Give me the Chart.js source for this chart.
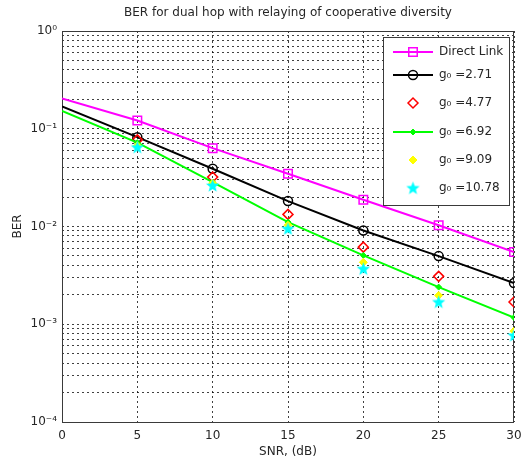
<!DOCTYPE html>
<html>
<head>
<meta charset="utf-8">
<script src="https://cdn.jsdelivr.net/npm/chart.js@4"></script>
<style>
  body { margin: 0; background: #fff; }
  #wrap { width: 525px; height: 465px; }
</style>
</head>
<body>
<div id="wrap"><canvas id="ber" width="525" height="465"></canvas></div>
<script>
// values
var snrLine = [0, 5, 10, 15, 20, 25, 30];
var snrMarks = [5, 10, 15, 20, 25, 30];
var berDirect = [0.204, 0.1216, 0.0633, 0.0347, 0.0188, 0.0103, 0.00547];
var berG271 = [0.169, 0.082, 0.039, 0.0182, 0.0091, 0.00498, 0.00264];
var berG477 = [0.077, 0.032, 0.0133, 0.00615, 0.00309, 0.00169];
var berG692 = [0.152, 0.072, 0.0284, 0.0111, 0.00506, 0.0024, 0.00117];
var berG909 = [0.067, 0.0277, 0.0103, 0.0043, 0.00197, 0.00085];
var berG1078 = [0.0648, 0.0263, 0.0095, 0.0037, 0.00169, 0.00077];
var seriesLabels = ["Direct Link", "g\u2080 =2.71", "g\u2080 =4.77", "g\u2080 =6.92", "g\u2080 =9.09", "g\u2080 =10.78"];

var xTicks = [0, 5, 10, 15, 20, 25, 30];
var yDecades = [1e-4, 1e-3, 1e-2, 1e-1, 1];
var yTickLabels = ["10\u207B\u2074", "10\u207B\u00B3", "10\u207B\u00B2", "10\u207B\u00B9", "10\u2070"];

var chartTitle = "BER for dual hop with relaying of cooperative diversity";
var xTitle = "SNR, (dB)";
var yTitle = "BER";

function pairs(xs, ys) {
  return xs.map(function (x, i) { return {x: x, y: ys[i]}; });
}

function makeStar(size, color) {
  var c = document.createElement("canvas");
  c.width = size; c.height = size;
  var g = c.getContext("2d");
  var cx = size / 2, cy = size / 2 + 0.5, R = size / 2 - 0.5, r = R * 0.42;
  g.beginPath();
  for (var i = 0; i < 10; i++) {
    var a = -Math.PI / 2 + i * Math.PI / 5;
    var rr = (i % 2) ? r : R;
    g.lineTo(cx + rr * Math.cos(a), cy + rr * Math.sin(a));
  }
  g.closePath();
  g.fillStyle = color;
  g.fill();
  return c;
}
var starImg = makeStar(15, "#00ffff");

// grid positions for the log axis: 1..9 in every decade
var yGrid = [];
for (var e = -4; e < 0; e++) {
  for (var s = 1; s < 10; s++) yGrid.push(s * Math.pow(10, e));
}
yGrid.push(1);

var datasets = [
  {label: seriesLabels[0], data: pairs(snrLine, berDirect), borderColor: "#ff00ff", borderWidth: 2,
   pointStyle: "rect", backgroundColor: "rgba(0,0,0,0)", pointBorderColor: "#ff00ff", pointBorderWidth: 1.5,
   pointRadius: function (c) { return c.parsed.x === 0 ? 0 : 6; }, showLine: true, order: 5},
  {label: seriesLabels[1], data: pairs(snrLine, berG271), borderColor: "#000000", borderWidth: 2,
   pointStyle: "circle", backgroundColor: "rgba(0,0,0,0)", pointBorderColor: "#000000", pointBorderWidth: 1.5,
   pointRadius: function (c) { return c.parsed.x === 0 ? 0 : 4.5; }, showLine: true, order: 4},
  {label: seriesLabels[2], data: pairs(snrMarks, berG477), borderColor: "#ff0000", borderWidth: 0,
   pointStyle: "rectRot", backgroundColor: "rgba(0,0,0,0)", pointBorderColor: "#ff0000", pointBorderWidth: 1.5,
   pointRadius: 5, showLine: false, order: 3},
  {label: seriesLabels[3], data: pairs(snrLine, berG692), borderColor: "#00ff00", borderWidth: 2,
   pointStyle: "rectRot", backgroundColor: "#00ff00", pointBorderColor: "#00ff00", pointBackgroundColor: "#00ff00",
   pointBorderWidth: 1, pointRadius: function (c) { return c.parsed.x === 0 ? 0 : 3; }, showLine: true, order: 2},
  {label: seriesLabels[4], data: pairs(snrMarks, berG909), borderColor: "#ffff00", borderWidth: 0,
   pointStyle: "rectRot", backgroundColor: "#ffff00", pointBorderColor: "#ffff00", pointBackgroundColor: "#ffff00",
   pointBorderWidth: 1, pointRadius: 4, showLine: false, order: 1},
  {label: seriesLabels[5], data: pairs(snrMarks, berG1078), borderColor: "#00ffff", borderWidth: 0,
   pointStyle: starImg, backgroundColor: "#00ffff", pointBorderColor: "#00ffff",
   pointBorderWidth: 0, pointRadius: 7, showLine: false, order: 0}
];

var textColor = "#262626";
var fontFam = "'DejaVu Sans', sans-serif";

// frame, titles and the boxed legend drawn by hand like the MATLAB figure
var figurePlugin = {
  id: "figure",
  beforeDatasetsDraw: function (chart) {
    var a = chart.chartArea, ctx = chart.ctx;
    ctx.save();
    ctx.strokeStyle = "#3a3a3a";
    ctx.lineWidth = 1;
    ctx.setLineDash([]);
    ctx.strokeRect(Math.round(a.left) + 0.5, Math.round(a.top) + 0.5,
                   Math.round(a.right - a.left) - 1, Math.round(a.bottom - a.top));
    ctx.restore();
  },
  afterDraw: function (chart) {
    var a = chart.chartArea, ctx = chart.ctx;
    ctx.save();
    ctx.fillStyle = textColor;
    ctx.font = "12px " + fontFam;
    ctx.textAlign = "center";
    ctx.textBaseline = "middle";
    ctx.fillText(chartTitle, (a.left + a.right) / 2, 13);
    ctx.fillText(xTitle, (a.left + a.right) / 2, 452);
    ctx.translate(18, (a.top + a.bottom) / 2);
    ctx.rotate(-Math.PI / 2);
    ctx.fillText(yTitle, 0, 0);
    ctx.restore();

    // legend box
    var bx = 383.5, by = 37.5, bw = 126, bh = 168;
    var rows = [52, 75, 103, 132, 160, 188];
    ctx.save();
    ctx.fillStyle = "#ffffff";
    ctx.fillRect(bx, by, bw, bh);
    ctx.strokeStyle = "#3a3a3a";
    ctx.lineWidth = 1;
    ctx.strokeRect(bx, by, bw, bh);
    chart.data.datasets.forEach(function (ds, i) {
      var y = rows[i];
      if (ds.showLine) {
        ctx.strokeStyle = ds.borderColor;
        ctx.lineWidth = 2;
        ctx.beginPath();
        ctx.moveTo(393, y);
        ctx.lineTo(433, y);
        ctx.stroke();
      }
      var r = typeof ds.pointRadius === "function" ? ds.pointRadius({parsed: {x: 5}}) : ds.pointRadius;
      ctx.fillStyle = ds.pointBackgroundColor || ds.backgroundColor;
      ctx.strokeStyle = ds.pointBorderColor;
      ctx.lineWidth = ds.pointBorderWidth;
      Chart.helpers.drawPoint(ctx, {pointStyle: ds.pointStyle, radius: r, rotation: 0,
                                    borderWidth: ds.pointBorderWidth}, 413, y);
      ctx.fillStyle = textColor;
      ctx.font = "12px " + fontFam;
      ctx.textAlign = "left";
      ctx.textBaseline = "middle";
      ctx.fillText(ds.label, 439, y);
    });
    ctx.restore();
  }
};

var ctx = document.getElementById("ber").getContext("2d");
new Chart(ctx, {
  type: "scatter",
  data: {datasets: datasets},
  options: {
    responsive: false,
    animation: false,
    layout: {padding: {top: 31, right: 11, left: 0, bottom: 0}},
    plugins: {legend: {display: false}, tooltip: {enabled: false}, title: {display: false}},
    elements: {line: {tension: 0}},
    scales: {
      x: {
        type: "linear", min: 0, max: 30,
        afterBuildTicks: function (scale) { scale.ticks = xTicks.map(function (v) { return {value: v}; }); },
        afterFit: function (scale) { scale.height = 43; scale.paddingLeft = 0; scale.paddingRight = 0; },
        ticks: {color: textColor, font: {size: 12, family: fontFam}, padding: 7, autoSkip: false, maxRotation: 0},
        grid: {color: "rgba(0,0,0,0.75)", lineWidth: 1, drawTicks: false},
        border: {display: false, dash: [2, 3]}
      },
      y: {
        type: "logarithmic", min: 1e-4, max: 1,
        afterBuildTicks: function (scale) { scale.ticks = yGrid.map(function (v) { return {value: v}; }); },
        afterFit: function (scale) { scale.width = 62; scale.paddingTop = 0; scale.paddingBottom = 0; },
        ticks: {
          color: textColor, font: {size: 12, family: fontFam}, padding: 5, autoSkip: false,
          callback: function (v) {
            for (var k = 0; k < yDecades.length; k++) {
              if (Math.abs(v / yDecades[k] - 1) < 1e-6) return yTickLabels[k];
            }
            return "";
          }
        },
        grid: {color: "rgba(0,0,0,0.75)", lineWidth: 1, drawTicks: false},
        border: {display: false, dash: [2, 3]}
      }
    }
  },
  plugins: [figurePlugin]
});
</script>
</body>
</html>
